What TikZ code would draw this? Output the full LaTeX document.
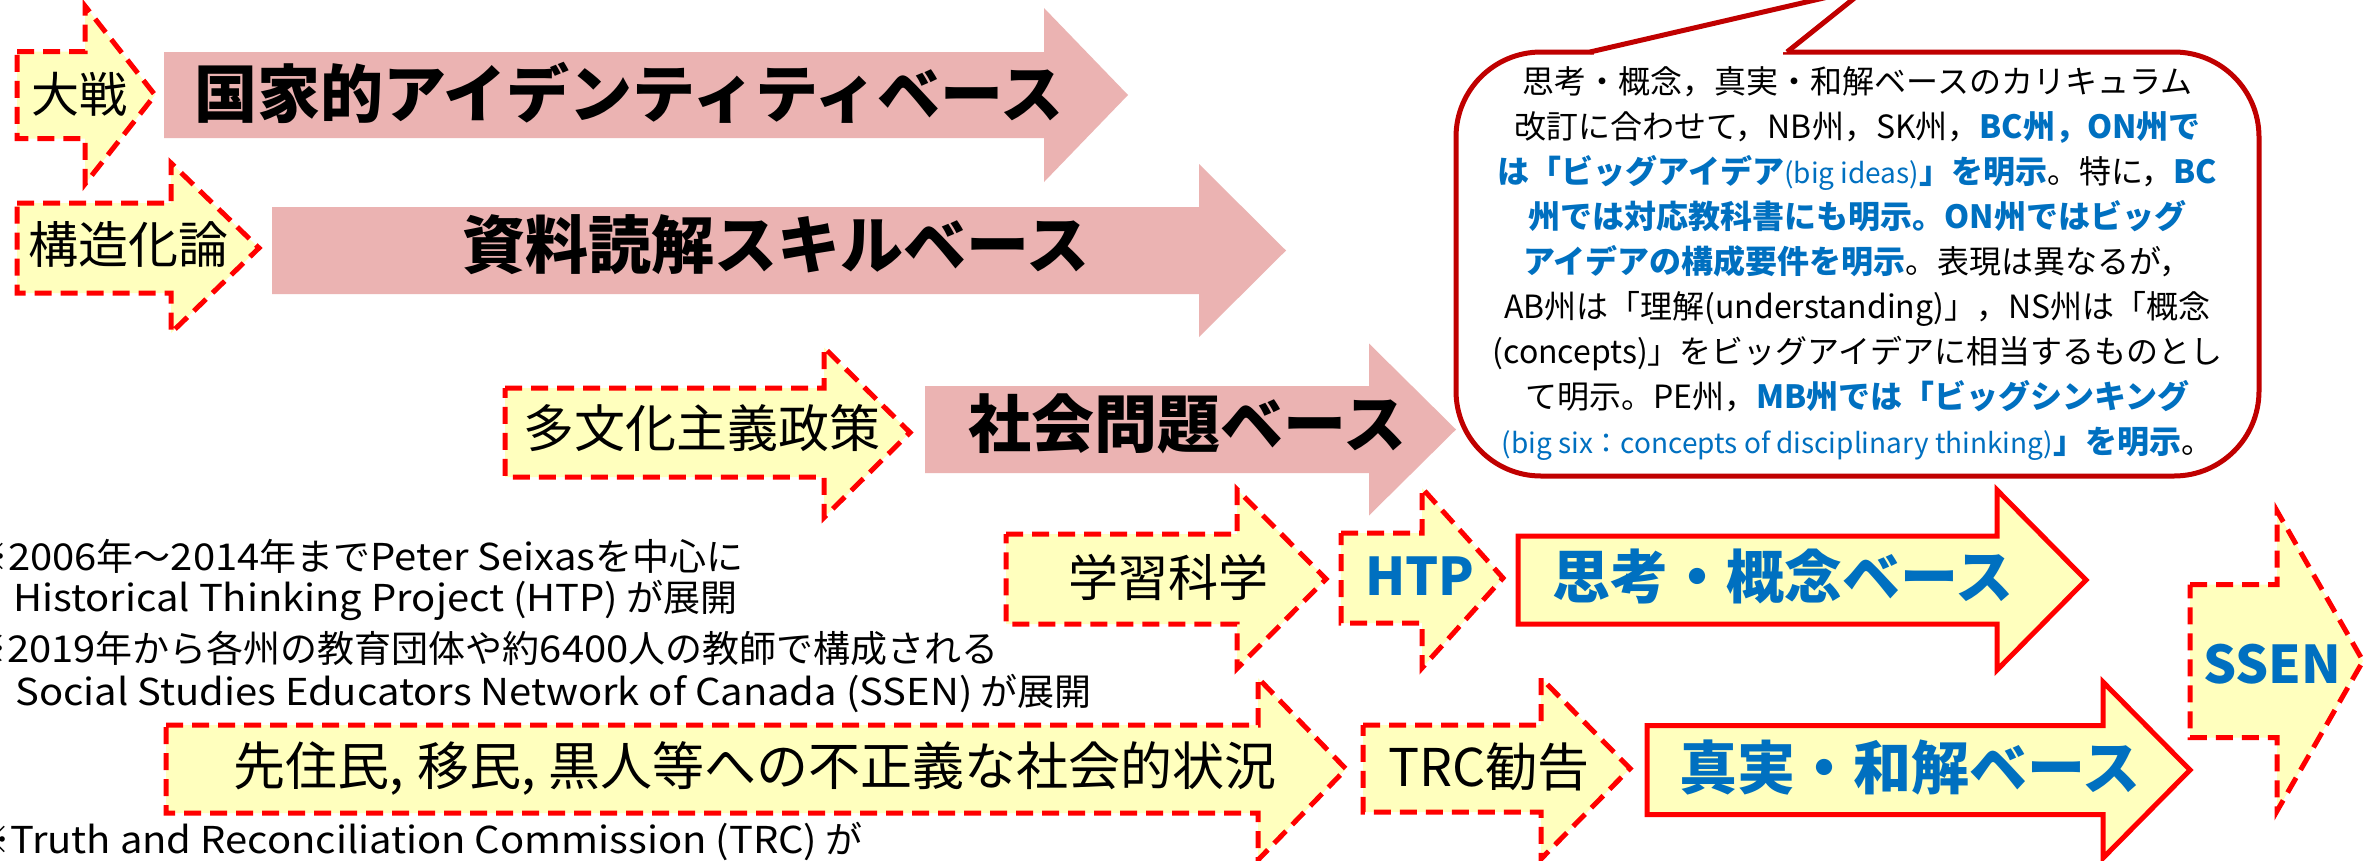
\documentclass[tikz,border=0pt]{standalone}
\usepackage{graphicx}
\usepackage{fontspec}
\setmainfont{Noto Sans CJK JP}
\definecolor{pinkf}{RGB}{235,179,178}
\definecolor{yelf}{RGB}{255,255,190}
\definecolor{bl}{RGB}{0,112,192}
\definecolor{dred}{RGB}{192,0,0}
\tikzset{
  dasharrow/.style={fill=yelf, draw=red, line width=5pt, dash pattern=on 17pt off 9pt, line join=miter},
  solidarrow/.style={fill=yelf, draw=red, line width=5pt, line join=miter},
  pinkarrow/.style={fill=pinkf, draw=none},
  lbl/.style={inner sep=0pt, anchor=center},
  bigtxt/.style={lbl, font=\fontsize{63}{70}\selectfont\bfseries},
  bluetxt/.style={lbl, text=bl, font=\fontsize{58}{66}\selectfont\bfseries},
  smalltxt/.style={lbl, font=\fontsize{#1}{#1}\selectfont},
  note/.style={inner sep=0pt, anchor=base west, font=\fontsize{37}{40}\selectfont},
  calloutbox/.style={draw=dred, line width=5pt, fill=white, rounded corners=85pt,
    inner sep=0pt, align=center, font=\fontsize{32}{45}\selectfont},
}
% #1 style, #2 xLeft, #3 xHeadBase, #4 xTip, #5 yCenter, #6 body half height, #7 head half height
\newcommand\myarrow[7]{\path[#1] ({#2},{#5-#6}) -- ({#3},{#5-#6}) -- ({#3},{#5-#7}) -- ({#4},{#5}) -- ({#3},{#5+#7}) -- ({#3},{#5+#6}) -- ({#2},{#5+#6}) -- cycle;}
\newcommand\hb[1]{{\bfseries\color{bl}#1}}
\newcommand\hs[1]{{\fontsize{28}{45}\selectfont\color{bl}#1}}
\newcommand\wl[1]{\scalebox{1.08}[1]{#1}}
\newcommand\nc{{,}\hspace{0.25em}}
\begin{document}
\begin{tikzpicture}[x=1pt,y=-1pt]
\useasboundingbox (0,0) rectangle (2366,860);
\fill[white] (0,0) rectangle (2366,860);

% row 1
\myarrow{dasharrow}{17}{85}{155}{95}{43.5}{89}
\node[smalltxt=48] (taisen) at (79,94) {大戦};
\myarrow{pinkarrow}{164}{1044}{1128}{95}{43}{87}
\node[bigtxt] (kokka) at (629,93) {国家的アイデンティティベース};

% row 2
\myarrow{dasharrow}{17}{171}{259}{248}{45}{85}
\node[smalltxt=50] (kozo) at (128,244) {構造化論};
\myarrow{pinkarrow}{272}{1199}{1286}{250.5}{43.5}{86.5}
\node[bigtxt] (shiryo) at (776,245) {資料読解スキルベース};

% row 3
\myarrow{dasharrow}{505}{824}{910}{432.5}{44.5}{85}
\node[smalltxt=51] (tabunka) at (702,428) {多文化主義政策};
\myarrow{pinkarrow}{925}{1369}{1456}{429.5}{43.5}{86}
\node[bigtxt] (shakai) at (1187,424) {社会問題ベース};

% callout
\node[calloutbox, minimum width=803pt, minimum height=424pt] (callout) at (1857.5,264) {%
思考・概念，真実・和解ベースのカリキュラム\\
改訂に合わせて，NB州，SK州，\hb{BC州，ON州で}\\
\hb{は「ビッグアイデア}\hs{(big ideas)}\hb{」を明示}。特に，\hb{BC}\\
\hb{州では対応教科書にも明示。ON州ではビッグ}\\
\hb{アイデアの構成要件を明示}。表現は異なるが，\\
AB州は「理解(understanding)」，NS州は「概念\\
(concepts)」をビッグアイデアに相当するものとし\\
て明示。PE州，\hb{MB州では「ビッグシンキング}\\
\hs{(big six：concepts of disciplinary thinking)}\hb{」を明示}。};
\coordinate (ptip) at (1867,-12);
\fill[white] (1590,52) -- (ptip) -- (1787,52) -- cycle;
\fill[white] (1594,47) rectangle (1783,57);
\draw[dred, line width=5pt, line join=miter] (1590,52) -- (ptip) -- (1787,52);

% row 4
\myarrow{dasharrow}{1006}{1237}{1326}{579}{45}{89.5}
\node[smalltxt=50] (gakushu) at (1168,577) {学習科学};
\myarrow{dasharrow}{1341}{1422}{1503}{578}{45}{90}
\node[lbl, text=bl, font=\fontsize{52}{56}\selectfont\bfseries] (htp) at (1420,576) {HTP};
\myarrow{solidarrow}{1518}{1997}{2086}{580}{44}{90}
\node[bluetxt] (shiko) at (1783,577) {思考・概念ベース};

% SSEN
\myarrow{dasharrow}{2190}{2277}{2363}{661}{76.5}{150}
\node[lbl, text=bl, font=\fontsize{52}{56}\selectfont\bfseries] (ssen) at (2272,664) {SSEN};

% row 5
\myarrow{dasharrow}{166}{1258}{1346}{769}{44}{91}
\node[smalltxt=52] (senju) at (755,768) {先住民\nc 移民\nc 黒人等への不正義な社会的状況};
\myarrow{dasharrow}{1363}{1541}{1630}{768.5}{43.5}{90.5}
\node[smalltxt=52] (trc) at (1489,767) {TRC勧告};
\myarrow{solidarrow}{1647}{2103}{2190}{770}{44.5}{88}
\node[bluetxt] (shinjitsu) at (1910,768) {真実・和解ベース};

% notes
\node[note] (n1) at (-29,570) {※\wl{2006}年～\wl{2014}年まで\wl{Peter Seixas}を中心に};
\node[note] (n2) at (13,611) {\wl{Historical Thinking Project (HTP)} が展開};
\node[note] (n3) at (-30,662) {※\wl{2019}年から各州の教育団体や約\wl{6400}人の教師で構成される};
\node[note] (n4) at (15,705) {\wl{Social Studies Educators Network of Canada (SSEN)} が展開};
\node[note] (n5) at (-27,853) {※\wl{Truth and Reconciliation Commission (TRC)} が};
\end{tikzpicture}
\end{document}
